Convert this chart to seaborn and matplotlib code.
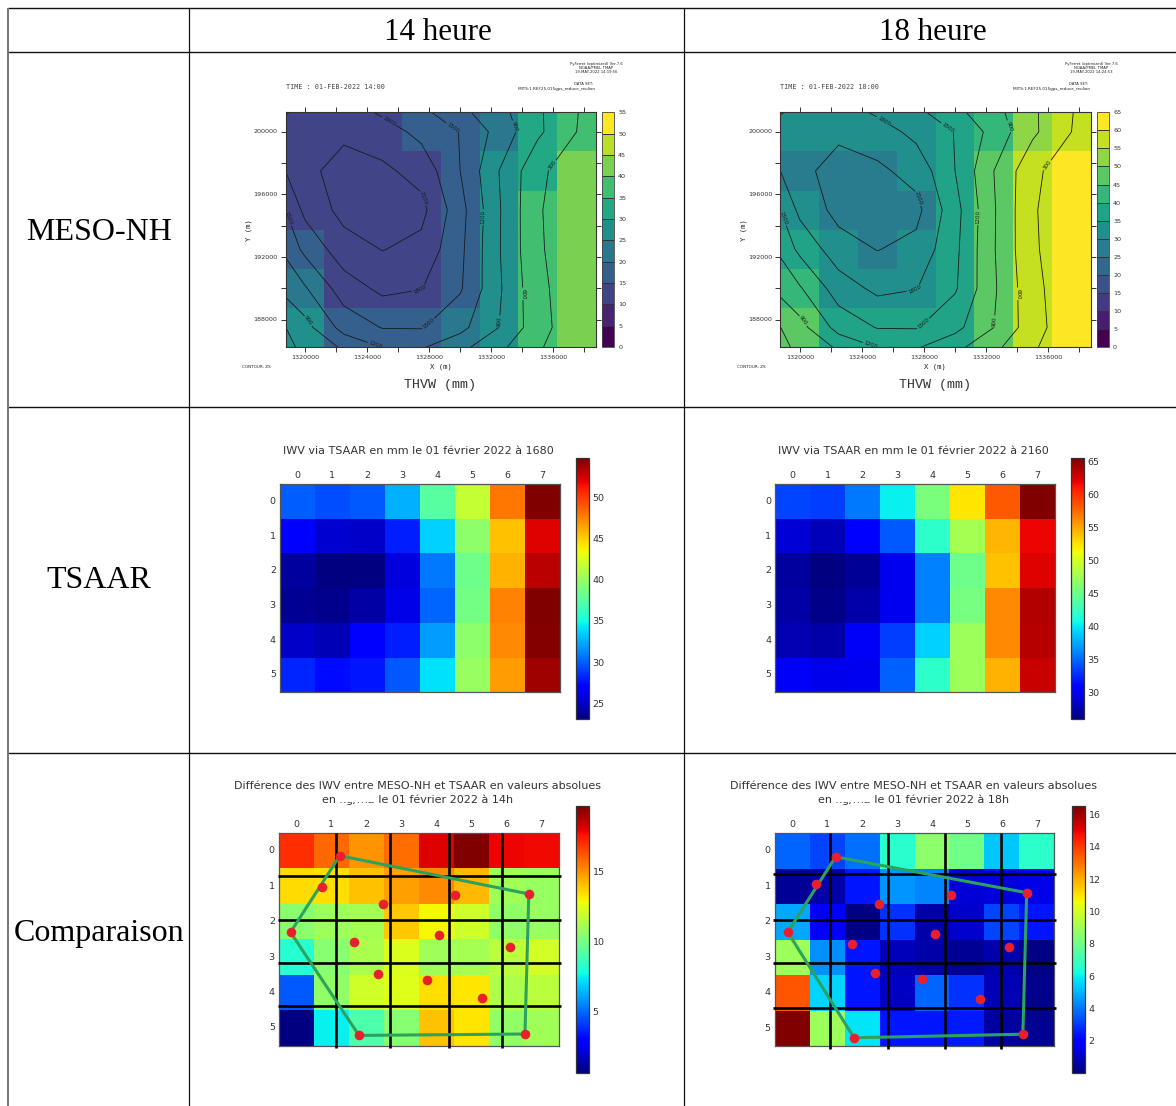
# iwv_comparison.py
# table of IWV maps: MESO-NH, TSAAR and their difference at 14h and 18h

import numpy as np
import pandas as pd
import seaborn as sns
import matplotlib
matplotlib.use("Agg")
import matplotlib.pyplot as plt
from matplotlib.colors import BoundaryNorm
from matplotlib.patches import Rectangle

# MESO-NH THVW (mm), one value per bin, top row first
meso_14 = [[12, 12, 12, 18, 18, 22, 32, 37],
           [12, 12, 12, 12, 18, 27, 32, 42],
           [12, 12, 12, 12, 18, 27, 37, 42],
           [18, 12, 12, 12, 18, 27, 37, 42],
           [22, 12, 12, 12, 18, 27, 37, 42],
           [27, 18, 18, 18, 22, 27, 37, 42]]
meso_18 = [[32, 32, 32, 32, 37, 42, 52, 57],
           [27, 27, 27, 32, 37, 47, 57, 62],
           [32, 27, 27, 27, 37, 47, 57, 62],
           [37, 32, 27, 32, 37, 47, 57, 62],
           [42, 32, 32, 32, 37, 47, 57, 62],
           [47, 37, 37, 37, 37, 47, 57, 62]]
levels_14 = list(range(0, 60, 5))
levels_18 = list(range(0, 70, 5))

# model grid of the two MESO-NH panels
grid_x = [1320000, 1322500, 1325000, 1327500, 1330000, 1332500, 1335000, 1337500]
grid_y = [200000, 197500, 195000, 192500, 190000, 187500]
x_ticks = list(range(1320000, 1340000, 2000))
y_ticks = list(range(188000, 202000, 2000))
x_labels = [1320000, 1324000, 1328000, 1332000, 1336000]
y_labels = [188000, 192000, 196000, 200000]

# terrain height ZS (m); the grid is one node larger than the bins on each side
zs_x = [-0.5, 0.5, 1.5, 2.5, 3.5, 4.5, 5.5, 6.5, 7.5, 8.5]
zs_y = [-0.5, 0.5, 1.5, 2.5, 3.5, 4.5, 5.5, 6.5]
zs = [[1450, 1750, 1780, 1566, 1405, 1140, 937, 644, 320, 100],
      [1850, 1950, 2000, 1940, 1715, 1490, 1091, 656, 300, 100],
      [1634, 1966, 2297, 2158, 1997, 1500, 900, 375, 100, 50],
      [1120, 1875, 2196, 2300, 2186, 1609, 928, 330, 100, 50],
      [1000, 1572, 1970, 2110, 2013, 1570, 920, 340, 110, 50],
      [800, 1170, 1651, 1870, 1810, 1535, 942, 385, 100, 50],
      [400, 792, 1312, 1515, 1520, 1286, 900, 424, 90, 50],
      [200, 598, 652, 905, 940, 728, 506, 276, 70, 50]]
zs_levels = [300, 600, 900, 1200, 1500, 1800, 2100]
# where the contour labels sit, in bin units
zs_label_spots = [(2.65, 0.24), (3.46, 4.57), (4.32, 0.37), (3.68, 5.4), (0.05, 2.72),
                  (3.55, 2.2), (5.08, 2.68), (2.31, 5.95), (5.86, 0.37), (0.56, 5.35),
                  (5.5, 5.35), (6.1, 4.64), (6.9, 1.37)]

# TSAAR IWV (mm)
tsaar_14 = [[30.0, 29.5, 29.9, 32.6, 37.5, 41.7, 47.9, 54.8],
            [26.8, 25.4, 25.2, 28.0, 33.6, 39.6, 45.4, 52.1],
            [24.0, 23.1, 23.1, 25.8, 30.8, 38.4, 46.0, 53.1],
            [23.7, 23.5, 24.1, 26.0, 30.2, 38.6, 47.6, 54.8],
            [25.2, 24.7, 26.6, 28.0, 31.9, 39.6, 47.3, 54.6],
            [28.3, 27.4, 27.7, 29.9, 34.1, 40.0, 46.7, 53.9]]
tsaar_18 = [[33.7, 33.3, 35.6, 40.3, 45.7, 52.3, 58.2, 65.6],
            [29.0, 28.1, 30.4, 34.4, 42.0, 47.7, 54.4, 61.8],
            [27.1, 26.1, 26.8, 30.0, 36.0, 45.1, 53.9, 62.3],
            [27.3, 26.4, 27.5, 30.0, 36.0, 45.5, 56.2, 63.8],
            [27.8, 27.5, 30.2, 33.3, 39.1, 47.5, 56.2, 63.6],
            [30.2, 29.8, 30.0, 34.8, 42.0, 47.5, 54.6, 63.0]]

# absolute difference MESO-NH / TSAAR
diff_14 = [[17.0, 15.8, 14.9, 15.7, 18.0, 19.6, 17.8, 17.7],
           [13.5, 13.4, 14.0, 14.7, 15.1, 14.2, 11.0, 10.8],
           [10.5, 10.9, 11.1, 13.9, 12.9, 12.0, 10.6, 10.8],
           [8.2, 10.4, 11.2, 12.3, 11.0, 11.1, 11.6, 12.1],
           [4.7, 10.6, 12.0, 12.4, 13.4, 13.3, 11.3, 11.6],
           [0.7, 7.5, 9.1, 10.4, 14.0, 13.3, 10.6, 11.0]]
diff_18 = [[3.7, 3.2, 3.9, 6.6, 8.6, 8.0, 5.3, 6.7],
           [0.33, 0.6, 2.4, 4.5, 4.2, 1.25, 1.4, 1.5],
           [4.8, 1.8, 0.1, 2.9, 0.6, 1.1, 3.2, 2.4],
           [8.9, 4.4, 2.4, 0.9, 0.6, 0.26, 0.7, 0.1],
           [13.5, 5.5, 2.4, 1.0, 3.7, 2.9, 0.8, 0.2],
           [16.5, 8.9, 5.8, 2.4, 2.4, 2.5, 0.46, 0.26]]

# stations and hull drawn over the difference maps, in bin units
stations_14_x = [1.74, 1.24, 7.15, 5.05, 2.98, 0.33, 4.59, 2.14, 6.61, 2.83, 4.23, 5.82, 2.29, 7.04]
stations_14_y = [0.64, 1.53, 1.72, 1.75, 2.00, 2.80, 2.87, 3.07, 3.21, 3.97, 4.16, 4.65, 5.71, 5.67]
stations_18_x = [1.74, 1.19, 7.21, 5.04, 2.99, 0.37, 4.59, 2.20, 6.71, 2.86, 4.21, 5.87, 2.27, 7.10]
stations_18_y = [0.67, 1.43, 1.68, 1.73, 1.99, 2.79, 2.84, 3.13, 3.20, 3.95, 4.12, 4.66, 5.76, 5.66]
hull = [0, 2, 13, 12, 5, 0]
# black mesh of the TSAAR sectors
mesh_14_x = [1.62, 3.19, 4.87, 6.38]
mesh_14_y = [1.22, 2.45, 3.67, 4.88]
mesh_18_x = [1.59, 3.25, 4.86, 6.47]
mesh_18_y = [1.16, 2.45, 3.67, 4.92]

col_titles = ["14 heure", "18 heure"]
row_titles = ["MESO-NH", "TSAAR", "Comparaison"]

W, H = 1176, 1106
sns.set_theme(style="white")
plt.rcParams["font.family"] = ["DejaVu Sans"]
fig = plt.figure(figsize=(W / 100, H / 100), dpi=100)

# axes from pixel edges
def px_axes(left, top, right, bottom):
    return fig.add_axes([left / W, 1 - bottom / H, (right - left) / W, (bottom - top) / H])

# the word table behind all panels, drawn in pixels
page = px_axes(0, 0, W, H)
page.set_xlim(0, W)
page.set_ylim(H, 0)
page.axis("off")
page.hlines([8, 52, 407, 753], 8, W, color="#111111", lw=1.0)
page.vlines(8, 8, H, color="#777777", lw=1.4)
page.vlines([189, 684], 8, H, color="#111111", lw=0.9)
for text, x in zip(col_titles, [438, 933]):
    page.text(x, 32.5, text, family="Liberation Serif", fontsize=22.3, color="black", ha="center", va="center")
for text, y in zip(row_titles, [232.5, 581, 933.5]):
    page.text(99, y, text, family="Liberation Serif", fontsize=23, color="black", ha="center", va="center")


# MESO-NH panel: ferret style binned field with ZS contours
def meso_panel(values, levels, left, hour, stamp):
    right = left + 310.5
    ax = px_axes(left, 112.3, right, 347)
    cax = px_axes(right + 6, 112.3, right + 18, 347)
    df = pd.DataFrame(values, index=grid_y, columns=grid_x)
    norm = BoundaryNorm(levels, 256)
    sns.heatmap(df, ax=ax, cbar_ax=cax, cmap="viridis", norm=norm,
                cbar_kws={"ticks": levels, "drawedges": True})
    cs = ax.contour(zs_x, zs_y, np.array(zs), levels=zs_levels, colors="#1a1a1a", linewidths=0.6)
    ax.clabel(cs, fmt="%d", fontsize=4, inline=True, inline_spacing=1, manual=zs_label_spots)
    ax.set_xlim(0, 8)
    ax.set_ylim(6, 0)

    # real coordinates turned into bin units
    ax.set_xticks([(t - grid_x[0]) / 2500 + 0.5 for t in x_ticks])
    ax.set_xticklabels([str(t) if t in x_labels else "" for t in x_ticks], rotation=0)
    ax.set_yticks([(grid_y[0] - t) / 2500 + 0.5 for t in y_ticks])
    ax.set_yticklabels([str(t) if t in y_labels else "" for t in y_ticks], rotation=0)
    ax.tick_params(length=3.3, width=0.7, labelsize=4.6, pad=2.5, colors="#333333",
                   top=True, right=True, bottom=True, left=True)
    ax.set_xlabel("")
    ax.set_ylabel("")
    for s in ax.spines.values():
        s.set_visible(True)
        s.set_linewidth(0.8)
        s.set_color("#333333")
    cax.tick_params(length=0, labelsize=4.6, pad=3, colors="#333333")
    cbar = ax.collections[0].colorbar
    cbar.dividers.set_linewidth(0.7)
    cbar.dividers.set_color("#333333")
    cbar.outline.set_linewidth(0.6)
    cbar.outline.set_edgecolor("#444444")

    fs = {"color": "#222222", "ha": "center", "va": "center"}
    page.text(left, 87, "TIME : 01-FEB-2022 " + hour, family="DejaVu Sans Mono", fontsize=4.9,
              color="#444444", ha="left", va="center")
    page.text(right, 63.7, "PyFerret (optimized) Ver.7.6", fontsize=2.7, **fs)
    page.text(right, 68, "NOAA/PMEL TMAP", fontsize=2.7, **fs)
    page.text(right, 72, "19-MAY-2022 " + stamp, fontsize=2.7, **fs)
    page.text(right - 12, 84.3, "DATA SET:", fontsize=2.7, **fs)
    page.text(right - 39, 88.7, "IMITS:1.REF25.015gps_reduce_reulion", fontsize=3, **fs)
    page.text(left - 29, 367, "CONTOUR: ZS", fontsize=3, **fs)
    page.text(left + 155, 366.5, "X (m)", family="DejaVu Sans Mono", fontsize=5.2, **fs)
    page.text(left - 37, 230, "Y (m)", family="DejaVu Sans Mono", fontsize=5.2, rotation=90, **fs)
    page.text(left + 155, 385, "THVW (mm)", family="Liberation Mono", fontsize=9.6,
              color="#333333", ha="center", va="center")


# old matplotlib look for the imshow panels
def jet_panel(values, left, top, bottom, cb_left, cb_top, cb_bottom, vmin, vmax, ticks, title, title_y):
    ax = px_axes(left, top, left + 279.5, bottom)
    cax = px_axes(cb_left, cb_top, cb_left + 13.2, cb_bottom)
    sns.heatmap(pd.DataFrame(values), ax=ax, cbar_ax=cax, cmap="jet", vmin=vmin, vmax=vmax,
                cbar_kws={"ticks": ticks})
    ax.xaxis.tick_top()
    ax.tick_params(direction="in", length=3, width=0.6, labelsize=6.8, pad=3, colors="#333333",
                   top=True, bottom=True, left=True, right=True, labeltop=True, labelbottom=False)
    ax.tick_params(axis="y", labelrotation=0)
    ax.tick_params(axis="x", labelrotation=0)
    ax.set_xlabel("")
    ax.set_ylabel("")
    for s in ax.spines.values():
        s.set_visible(True)
        s.set_linewidth(0.9)
        s.set_color("#555555")
    cax.tick_params(direction="in", length=3, width=0.5, labelsize=6.8, pad=2.5, colors="#333333", right=True)
    cbar = ax.collections[0].colorbar
    cbar.outline.set_linewidth(0.9)
    cbar.outline.set_edgecolor("#333333")
    page.text(left + 138.5, title_y, title, fontsize=8.05, color="#333333", ha="center", va="center",
              linespacing=1.3)
    return ax


# stations, hull and sector mesh over a difference map
def overlay(ax, xs, ys, mesh_x, mesh_y):
    ax.hlines(mesh_y, -0.04, 8.06, color="black", lw=1.9, clip_on=False, zorder=3)
    ax.vlines(mesh_x, 0, 6.07, color="black", lw=1.9, clip_on=False, zorder=3)
    ax.plot([xs[i] for i in hull], [ys[i] for i in hull], color="#2ca25f", lw=2.2, clip_on=False, zorder=4)
    sns.scatterplot(x=xs, y=ys, ax=ax, color="#e8202e", s=48, linewidth=0, clip_on=False, zorder=5)


meso_panel(meso_14, levels_14, 285.5, "14:00", "14:19:56")
meso_panel(meso_18, levels_18, 780.4, "18:00", "14:24:53")

jet_panel(tsaar_14, 280, 484, 692.3, 576, 457.7, 719, 23.1, 54.8, [25, 30, 35, 40, 45, 50],
          "IWV via TSAAR en mm le 01 février 2022 à 1680", 451)
jet_panel(tsaar_18, 775.3, 484, 692.3, 1071, 457.7, 719, 26.0, 65.6, [30, 35, 40, 45, 50, 55, 60, 65],
          "IWV via TSAAR en mm le 01 février 2022 à 2160", 451)

title_14 = "Différence des IWV entre MESO-NH et TSAAR en valeurs absolues\nen kg/m2 le 01 février 2022 à 14h"
title_18 = "Différence des IWV entre MESO-NH et TSAAR en valeurs absolues\nen kg/m2 le 01 février 2022 à 18h"
ax14 = jet_panel(diff_14, 279, 833, 1045.7, 576, 806.3, 1072.5, 0.7, 19.6, [5, 10, 15], title_14, 793)
overlay(ax14, stations_14_x, stations_14_y, mesh_14_x, mesh_14_y)
ax18 = jet_panel(diff_18, 774.8, 833, 1046.3, 1072, 806.3, 1073, 0.0, 16.5, [2, 4, 6, 8, 10, 12, 14, 16], title_18, 793)
overlay(ax18, stations_18_x, stations_18_y, mesh_18_x, mesh_18_y)

# white scrap in the source document hides part of both titles
for x in [339, 835]:
    page.add_patch(Rectangle((x, 788.5), 34, 12, color="white", zorder=10))

fig.savefig("out.png", dpi=100)
